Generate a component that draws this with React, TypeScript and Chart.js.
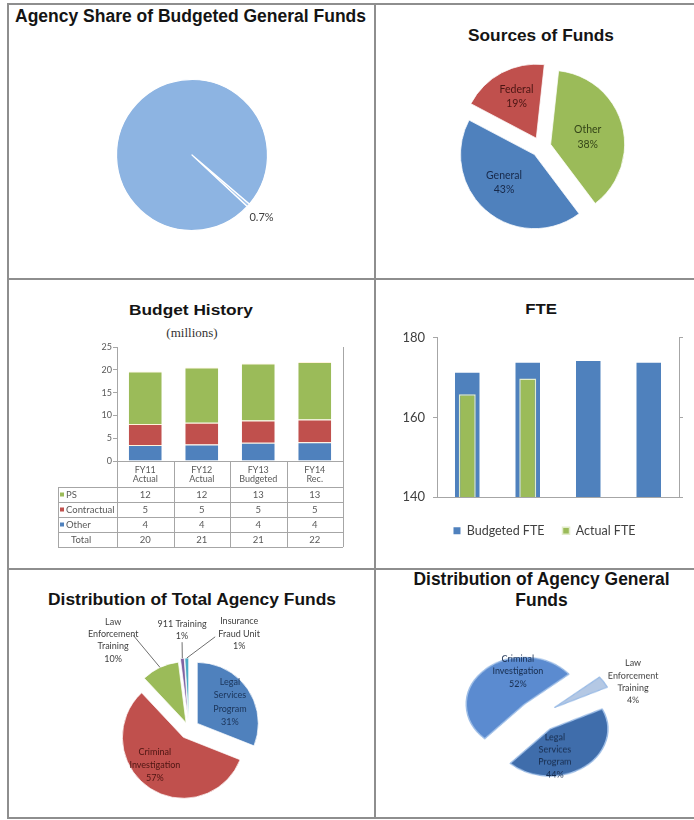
import React, { useEffect, useRef } from "react";
import { Chart, registerables, ArcElement } from "chart.js";

Chart.register(...registerables);

// ---------------- data ----------------
const shareLabels = ["Agency", "All Other Agencies"];
const shareValues = [0.7, 99.3];

const sourceLabels = ["General", "Federal", "Other"];
const sourceValues = [43, 19, 38];

const budgetCategories = [
  ["FY11", "Actual"],
  ["FY12", "Actual"],
  ["FY13", "Budgeted"],
  ["FY14", "Rec."],
];
const budgetSeries = ["PS", "Contractual", "Other"];
const budgetPS = [11.5, 12.1, 12.5, 12.6];
const budgetContractual = [4.6, 4.8, 4.9, 5.0];
const budgetOther = [3.5, 3.6, 4.0, 4.1];
const tablePS = ["12", "12", "13", "13"];
const tableContractual = ["5", "5", "5", "5"];
const tableOther = ["4", "4", "4", "4"];
const tableTotal = ["20", "21", "21", "22"];

const fteYears = ["FY11", "FY12", "FY13", "FY14"];
const fteBudgeted = [171.2, 173.7, 174.2, 173.7];
const fteActual = [165.8, 169.8, null, null];

const totalFundsLabels = [
  "Legal Services Program",
  "Criminal Investigation",
  "Law Enforcement Training",
  "911 Training",
  "Insurance Fraud Unit",
];
const totalFundsValues = [31, 57, 10, 1, 1];

const generalFundsLabels = ["Criminal Investigation", "Law Enforcement Training", "Legal Services Program"];
const generalFundsValues = [52, 4, 44];

// ---------------- exploded pie slice (pure translation, like Excel) ----------------
class ExplodedArc extends (ArcElement as any) {
  static id = "explodedArc";
  draw(ctx: CanvasRenderingContext2D) {
    const self: any = this;
    const o = self.options;
    const { x, y, startAngle, endAngle, outerRadius } = self;
    if (!(endAngle > startAngle)) return;
    const mid = (startAngle + endAngle) / 2;
    const d = o.offset || 0;
    ctx.save();
    ctx.translate(Math.cos(mid) * d, Math.sin(mid) * d);
    ctx.beginPath();
    ctx.moveTo(x, y);
    ctx.arc(x, y, outerRadius, startAngle, endAngle);
    ctx.closePath();
    ctx.fillStyle = o.backgroundColor;
    ctx.fill();
    if (o.borderWidth > 0) {
      ctx.lineWidth = o.borderWidth;
      ctx.strokeStyle = o.borderColor;
      ctx.lineJoin = "round";
      ctx.stroke();
    }
    ctx.restore();
  }
}
Chart.register(ExplodedArc as any);
(Chart.defaults as any).datasets.pie.dataElementType = "explodedArc";
Chart.defaults.font.family = "Lato, 'Liberation Sans', sans-serif";

type LabelSpec = {
  lines: string[];
  angle?: number;
  f: number;
  color: string;
  size: number;
  lh: number;
  leader?: [number, number];
};

function pieLabelPlugin(specs: (LabelSpec | null)[], k: number, textStretch: number) {
  return {
    id: "pieLabels",
    afterDatasetsDraw(chart: any) {
      const ctx = chart.ctx as CanvasRenderingContext2D;
      const meta = chart.getDatasetMeta(0);
      meta.data.forEach((arc: any, i: number) => {
        const s = specs[i];
        if (!s) return;
        const mid = (arc.startAngle + arc.endAngle) / 2;
        const off = arc.options.offset || 0;
        const ang = s.angle !== undefined ? ((s.angle - 90) * Math.PI) / 180 : mid;
        const d = off + s.f * arc.outerRadius;
        const lx = arc.x + Math.cos(ang) * d;
        const ly = arc.y + Math.sin(ang) * d;
        ctx.save();
        if (s.leader) {
          const e = off + arc.outerRadius;
          ctx.beginPath();
          ctx.moveTo(arc.x + Math.cos(mid) * e, arc.y + Math.sin(mid) * e);
          ctx.lineTo(lx + s.leader[0], ly + s.leader[1] / k);
          ctx.strokeStyle = "#6f6f6f";
          ctx.lineWidth = 1;
          ctx.stroke();
        }
        ctx.translate(lx, ly);
        ctx.scale(1, textStretch / k);
        ctx.font = `${s.size}px Lato, "Liberation Sans", sans-serif`;
        ctx.fillStyle = s.color;
        ctx.textAlign = "center";
        ctx.textBaseline = "middle";
        const n = s.lines.length;
        s.lines.forEach((t, j) => ctx.fillText(t, 0, (j - (n - 1) / 2) * s.lh));
        ctx.restore();
      });
    },
  };
}

const pct = (v: number) => `${v}%`;

const baseOpts = {
  responsive: false,
  animation: false as const,
  events: [] as any[],
  plugins: { legend: { display: false }, tooltip: { enabled: false } },
};

// ---------------- configs ----------------
function sharePie() {
  return {
    type: "pie",
    data: {
      labels: shareLabels,
      datasets: [
        {
          data: shareValues,
          backgroundColor: ["#a7c7ec", "#8DB4E2"],
          borderColor: "#ffffff",
          borderWidth: 1.2,
          radius: 75.5,
          rotation: 130.5,
          offset: 0,
        },
      ],
    },
    options: baseOpts,
    plugins: [
      pieLabelPlugin(
        [{ lines: [pct(shareValues[0])], f: 1.235, color: "#404040", size: 11, lh: 12 }, null],
        1,
        1
      ),
    ],
  };
}

function sourcesPie() {
  return {
    type: "pie",
    data: {
      labels: sourceLabels,
      datasets: [
        {
          data: sourceValues,
          backgroundColor: ["#4F81BD", "#C0504D", "#9BBB59"],
          borderColor: "rgba(255,255,255,0.75)",
          borderWidth: 1,
          radius: 74,
          rotation: 143,
          offset: 10,
        },
      ],
    },
    options: baseOpts,
    plugins: [
      pieLabelPlugin(
        [
          { lines: [sourceLabels[0], pct(sourceValues[0])], angle: 226, f: 0.56, color: "#17294a", size: 10.5, lh: 14.5 },
          { lines: [sourceLabels[1], pct(sourceValues[1])], angle: 334, f: 0.62, color: "#4a1513", size: 10.5, lh: 14.5 },
          { lines: [sourceLabels[2], pct(sourceValues[2])], angle: 78, f: 0.51, color: "#344418", size: 10.5, lh: 14.5 },
        ],
        1,
        1
      ),
    ],
  };
}

const GREEN = "#9BBB59";
const RED = "#C0504D";
const BLUE = "#4F81BD";
const LINE = "#a6a6a6";

const budgetTablePlugin = {
  id: "budgetTable",
  afterDraw(chart: any) {
    const { ctx, chartArea: a } = chart;
    const xs = chart.scales.x;
    const n = budgetCategories.length;
    const cw = (a.right - a.left) / n;
    const top = a.bottom + 26;
    const rowH = 15;
    const rows = [
      { name: budgetSeries[0], color: GREEN, vals: tablePS },
      { name: budgetSeries[1], color: RED, vals: tableContractual },
      { name: budgetSeries[2], color: BLUE, vals: tableOther },
      { name: "Total", color: null as any, vals: tableTotal },
    ];
    const tLeft = a.left - 59;
    const bottom = top + rows.length * rowH;
    const px = (v: number) => Math.round(v) + 0.5;
    ctx.save();
    ctx.strokeStyle = LINE;
    ctx.lineWidth = 1;
    const line = (x1: number, y1: number, x2: number, y2: number) => {
      ctx.beginPath();
      ctx.moveTo(x1, y1);
      ctx.lineTo(x2, y2);
      ctx.stroke();
    };
    line(px(a.right), a.top, px(a.right), a.bottom);
    for (let i = 0; i < n; i++) {
      const c = xs.getPixelForValue(i);
      line(px(c - cw / 2), a.bottom, px(c - cw / 2), bottom);
      if (i === n - 1) line(px(c + cw / 2), a.bottom, px(c + cw / 2), bottom);
    }
    line(px(tLeft), top, px(tLeft), bottom);
    for (let r = 0; r <= rows.length; r++) line(tLeft, px(top + r * rowH), a.right, px(top + r * rowH));
    ctx.font = "9.5px Lato, 'Liberation Sans', sans-serif";
    ctx.textBaseline = "middle";
    rows.forEach((row, r) => {
      const cy = top + r * rowH + rowH / 2;
      ctx.textAlign = "left";
      if (row.color) {
        ctx.fillStyle = row.color;
        ctx.fillRect(tLeft + 2, cy - 2, 4, 4);
        ctx.fillStyle = "#595959";
        ctx.fillText(row.name, tLeft + 8, cy);
      } else {
        ctx.fillStyle = "#595959";
        ctx.fillText(row.name, tLeft + 13, cy);
      }
      ctx.textAlign = "center";
      row.vals.forEach((v, i) => ctx.fillText(v, xs.getPixelForValue(i), cy));
    });
    ctx.restore();
  },
};

function budgetBars() {
  const tickFont = { family: "Lato", size: 9, lineHeight: 1 };
  return {
    type: "bar",
    data: {
      labels: budgetCategories,
      datasets: [
        { label: budgetSeries[2], data: budgetOther, backgroundColor: BLUE },
        { label: budgetSeries[1], data: budgetContractual, backgroundColor: RED },
        { label: budgetSeries[0], data: budgetPS, backgroundColor: GREEN },
      ].map((d) => ({
        ...d,
        borderColor: "rgba(255,240,210,0.8)",
        borderWidth: { top: 1, bottom: 0, left: 0, right: 0 },
        barPercentage: 0.583,
        categoryPercentage: 1,
      })),
    },
    options: {
      ...baseOpts,
      layout: { padding: { left: 0, right: 17, top: 9, bottom: 66 } },
      scales: {
        x: {
          stacked: true,
          grid: { display: false, drawTicks: false },
          border: { color: LINE },
          ticks: { font: tickFont, color: "#595959", padding: 4.5, maxRotation: 0, autoSkip: false },
          afterFit: (s: any) => {
            s.height = 26;
          },
        },
        y: {
          stacked: true,
          min: 0,
          max: 25,
          ticks: { stepSize: 5, font: tickFont, color: "#595959", padding: 1 },
          grid: { drawOnChartArea: false, tickLength: 4, color: LINE },
          border: { color: LINE },
          afterFit: (s: any) => {
            s.width = 77;
          },
        },
      },
    },
    plugins: [budgetTablePlugin],
  };
}

function fteBars() {
  const f13 = { family: "Lato", size: 13 };
  return {
    type: "bar",
    data: {
      labels: fteYears,
      datasets: [
        {
          label: "Budgeted FTE",
          data: fteBudgeted,
          backgroundColor: BLUE,
          borderColor: "#5f8fc9",
          borderWidth: 0,
          barPercentage: 0.405,
          categoryPercentage: 1,
          grouped: false,
          order: 1,
        },
        {
          label: "Actual FTE",
          data: fteActual,
          backgroundColor: GREEN,
          borderColor: "#e2ecc9",
          borderWidth: 1.5,
          barPercentage: 0.28,
          categoryPercentage: 1,
          grouped: false,
          order: 0,
        },
      ],
    },
    options: {
      ...baseOpts,
      layout: { padding: { top: 9, right: 0, left: 0, bottom: 0 } },
      plugins: {
        tooltip: { enabled: false },
        legend: {
          display: true,
          position: "bottom",
          labels: {
            boxWidth: 7,
            boxHeight: 7,
            padding: 18,
            font: { family: "Lato", size: 12.5 },
            color: "#404040",
            sort: (a: any, b: any) => a.datasetIndex - b.datasetIndex,
          },
        },
      },
      scales: {
        x: {
          grid: { display: false, drawTicks: false },
          border: { color: LINE },
          ticks: { font: f13, color: "#404040", padding: 10 },
          afterFit: (s: any) => {
            s.height = 9.5;
          },
        },
        y: {
          min: 140,
          max: 180,
          ticks: { stepSize: 20, font: f13, color: "#404040", padding: 8 },
          grid: { drawOnChartArea: false, tickLength: 4, color: LINE },
          border: { color: LINE },
          afterFit: (s: any) => {
            s.width = 38;
          },
        },
        y2: {
          position: "right",
          min: 140,
          max: 180,
          ticks: { display: false, stepSize: 20 },
          grid: { drawOnChartArea: false, tickLength: 4, color: LINE },
          border: { color: LINE },
          afterFit: (s: any) => {
            s.width = 11;
          },
        },
      },
    },
  };
}

function totalFundsPie() {
  const dark = "#3f3f3f";
  return {
    type: "pie",
    data: {
      labels: totalFundsLabels,
      datasets: [
        {
          data: totalFundsValues,
          backgroundColor: [BLUE, RED, GREEN, "#8064A2", "#4BACC6"],
          borderColor: "rgba(255,255,255,0.7)",
          borderWidth: 1,
          radius: 61,
          rotation: 0,
          offset: [10, 10, 7, 10, 10],
        },
      ],
    },
    options: baseOpts,
    plugins: [
      pieLabelPlugin(
        [
          { lines: ["Legal", "Services", "Program", pct(totalFundsValues[0])], angle: 56.6, f: 0.64, color: "#1b3459", size: 9, lh: 13.3 },
          { lines: ["Criminal", "Investigation", pct(totalFundsValues[1])], angle: 223.4, f: 0.65, color: "#4d1512", size: 9, lh: 13 },
          { lines: ["Law", "Enforcement", "Training", pct(totalFundsValues[2])], angle: 319.5, f: 1.8, color: dark, size: 9, lh: 12.3, leader: [20, -5] },
          { lines: ["911 Training", pct(totalFundsValues[3])], angle: 356, f: 1.46, color: dark, size: 9, lh: 12, leader: [0, 12] },
          { lines: ["Insurance", "Fraud Unit", pct(totalFundsValues[4])], angle: 27.8, f: 1.6, color: dark, size: 9, lh: 12.5, leader: [-24, 3] },
        ],
        1,
        1
      ),
    ],
  };
}

function generalFundsPie() {
  return {
    type: "pie",
    data: {
      labels: generalFundsLabels,
      datasets: [
        {
          data: generalFundsValues,
          backgroundColor: ["#5b8bd0", "#b4c8e4", "#3f6dab"],
          borderColor: "#9dbde6",
          borderWidth: 1.5,
          radius: 58,
          rotation: 223,
          offset: 20,
        },
      ],
    },
    options: baseOpts,
    plugins: [
      pieLabelPlugin(
        [
          { lines: ["Criminal", "Investigation", pct(generalFundsValues[0])], angle: 340, f: 0.67, color: "#172c4d", size: 9, lh: 12.4 },
          { lines: ["Law", "Enforcement", "Training", pct(generalFundsValues[1])], angle: 66, f: 1.45, color: "#3f3f3f", size: 9, lh: 12.4 },
          { lines: ["Legal", "Services", "Program", pct(generalFundsValues[2])], angle: 161, f: 0.55, color: "#172c4d", size: 9, lh: 12.4 },
        ],
        0.81,
        1
      ),
    ],
  };
}

// ---------------- components ----------------
function ChartBox({ left, top, w, h, k = 1, make }: any) {
  const ref = useRef<HTMLCanvasElement>(null);
  useEffect(() => {
    const chart = new Chart(ref.current as HTMLCanvasElement, make() as any);
    return () => chart.destroy();
  }, []);
  return (
    <div
      style={{
        position: "absolute",
        left,
        top,
        width: w,
        height: h,
        transform: k !== 1 ? `scaleY(${k})` : undefined,
        transformOrigin: "0 0",
      }}
    >
      <canvas ref={ref} width={w} height={h} style={{ display: "block", width: w, height: h }} />
    </div>
  );
}

function Title({ text, cx, left, baseline, size, sy = 1, serif = false, weight = 700 }: any) {
  const asc = (serif ? 0.84 : 0.8465) * size;
  const style: any = {
    position: "absolute",
    top: baseline - asc,
    lineHeight: `${size}px`,
    fontSize: size,
    fontFamily: serif ? '"Liberation Serif", "Times New Roman", serif' : '"Liberation Sans", Arial, sans-serif',
    fontWeight: weight,
    color: serif ? "#333333" : "#141414",
    whiteSpace: "nowrap",
    transform: sy !== 1 ? `scaleY(${sy})` : undefined,
    transformOrigin: `50% ${asc}px`,
  };
  if (cx !== undefined) {
    style.left = cx - 300;
    style.width = 600;
    style.textAlign = "center";
  } else {
    style.left = left;
  }
  return <div style={style}>{text}</div>;
}

function Frame() {
  const c = "#8e8e8e";
  const lines = [
    { left: 7, top: 3, width: 687, height: 2 },
    { left: 7, top: 278, width: 687, height: 2 },
    { left: 7, top: 568, width: 687, height: 2 },
    { left: 7, top: 817, width: 687, height: 2 },
    { left: 7, top: 3, width: 2, height: 816 },
    { left: 374, top: 3, width: 2, height: 816 },
  ];
  return (
    <>
      {lines.map((l, i) => (
        <div key={i} style={{ position: "absolute", background: c, ...l }} />
      ))}
    </>
  );
}

export default function App() {
  return (
    <div
      style={{
        position: "absolute",
        left: 0,
        top: 0,
        width: 694,
        height: 820,
        overflow: "hidden",
        background: "#ffffff",
      }}
    >
      <Frame />
      <Title text="Agency Share of Budgeted General Funds" left={15} baseline={22.8} size={17.5} />
      <Title text="Sources of Funds" cx={541} baseline={41.5} size={17.3} />
      <Title text="Budget History" cx={191} baseline={316} size={17.3} sy={0.89} />
      <Title text="(millions)" cx={192} baseline={336.5} size={13} serif weight={400} sy={0.9} />
      <Title text="FTE" cx={541} baseline={315.3} size={16.8} sy={0.85} />
      <Title text="Distribution of Total Agency Funds" cx={192} baseline={605.7} size={17.4} />
      <Title text="Distribution of Agency General" cx={541.5} baseline={585.7} size={17.45} />
      <Title text="Funds" cx={541.5} baseline={606.3} size={17.45} />

      <ChartBox left={92} top={55} w={200} h={200} make={sharePie} />
      <ChartBox left={441} top={52} w={200} h={190} make={sourcesPie} />
      <ChartBox left={40} top={338} w={320} h={215} make={budgetBars} />
      <ChartBox left={399} top={322} w={291} h={225} make={fteBars} />
      <ChartBox left={59} top={604} w={260} h={250} make={totalFundsPie} />
      <ChartBox left={408} top={635} w={260} h={200} k={0.81} make={generalFundsPie} />
    </div>
  );
}
